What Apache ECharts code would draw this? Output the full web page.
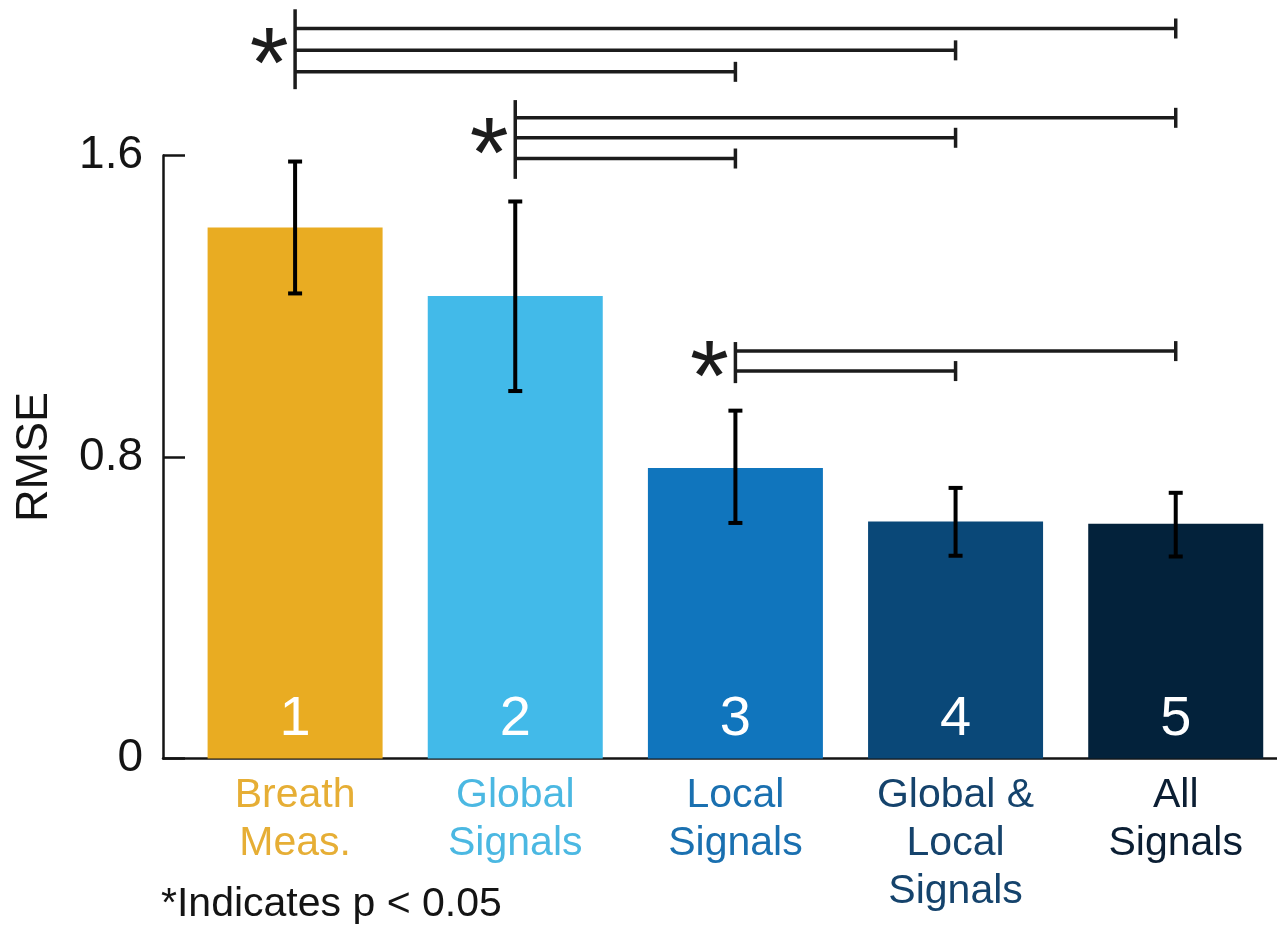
<!DOCTYPE html>
<html>
<head>
<meta charset="utf-8">
<script src="https://cdn.jsdelivr.net/npm/echarts@6/dist/echarts.min.js"></script>
<style>
html,body{margin:0;padding:0;background:#fff;}
#chart{width:1277px;height:927px;}
</style>
</head>
<body>
<div id="chart"></div>
<script>
// ---- data ----
const categories = ['Breath\nMeas.', 'Global\nSignals', 'Local\nSignals', 'Global &\nLocal\nSignals', 'All\nSignals'];
const barNumbers = ['1', '2', '3', '4', '5'];
const rmse = [1.409, 1.227, 0.771, 0.629, 0.623];
const errLow = [1.234, 0.975, 0.625, 0.538, 0.536];
const errHigh = [1.584, 1.478, 0.923, 0.718, 0.705];
const yTicks = [0, 0.8, 1.6];
// significance comparisons: from bar, to bar, bracket level (RMSE units)
const cmpFrom = [1, 1, 1, 2, 2, 2, 3, 3];
const cmpTo = [5, 4, 3, 5, 4, 3, 5, 4];
const cmpLevel = [1.937, 1.879, 1.822, 1.700, 1.647, 1.592, 1.081, 1.028];
// bracket groups: origin bar, whisker top, whisker bottom
const grpFrom = [1, 2, 3];
const grpTop = [1.988, 1.747, 1.105];
const grpBottom = [1.776, 1.538, 0.996];
const footnote = '*Indicates p < 0.05';

// ---- styles ----
const barColors = ['#E9AC22', '#42BAE9', '#1075BD', '#0A4878', '#03223B'];
const labelColors = ['#E6AE35', '#4BB8E2', '#1A70B0', '#15436C', '#0B1E33'];
const FONT = '"Liberation Sans", Arial, Helvetica, sans-serif';
const INK = '#141414';

const chart = echarts.init(document.getElementById('chart'), null, {renderer: 'canvas'});

const barData = rmse.map((v, i) => ({
  value: [i + 1, v],
  itemStyle: {color: barColors[i]}
}));
const errData = rmse.map((v, i) => [i + 1, errLow[i], errHigh[i]]);
const cmpData = cmpFrom.map((f, i) => [f, cmpLevel[i], cmpTo[i]]);
const grpData = grpFrom.map((f, i) => [f, grpTop[i], grpBottom[i]]);

const option = {
  animation: false,
  backgroundColor: '#ffffff',
  textStyle: {fontFamily: FONT},
  grid: {left: 163, right: 0, top: 155.5, bottom: 168.5, containLabel: false},
  xAxis: {
    type: 'value',
    min: 0.4,
    max: 5.46,
    splitLine: {show: false},
    axisTick: {show: false},
    axisLine: {show: true, onZero: false, lineStyle: {color: INK, width: 2.5}},
    axisLabel: {
      customValues: [1, 2, 3, 4, 5],
      formatter: v => categories[Math.round(v) - 1] || '',
      color: (v) => labelColors[Math.round(v) - 1] || INK,
      fontSize: 41,
      lineHeight: 48,
      margin: 13,
      fontFamily: FONT
    }
  },
  yAxis: {
    type: 'value',
    min: yTicks[0],
    max: yTicks[yTicks.length - 1],
    interval: yTicks[1] - yTicks[0],
    name: 'RMSE',
    nameLocation: 'middle',
    nameGap: 106,
    nameTextStyle: {fontSize: 45, color: INK, fontFamily: FONT},
    splitLine: {show: false},
    axisLine: {show: true, lineStyle: {color: INK, width: 2.5}},
    axisTick: {show: true, inside: true, length: 22, lineStyle: {color: INK, width: 2.5}},
    axisLabel: {
      fontSize: 46,
      color: INK,
      margin: 20,
      fontFamily: FONT,
      formatter: v => String(v)
    }
  },
  graphic: [{
    type: 'text',
    left: 161,
    top: 884,
    style: {text: footnote, font: '41px ' + FONT, fill: INK}
  }],
  series: [
    {
      type: 'bar',
      data: barData,
      barWidth: 175,
      label: {
        show: true,
        position: 'insideBottom',
        distance: 11,
        formatter: p => barNumbers[p.dataIndex],
        color: '#ffffff',
        fontSize: 56,
        fontFamily: FONT
      },
      z: 2
    },
    {
      type: 'custom',
      data: errData,
      encode: {x: 0, y: [1, 2]},
      z: 5,
      renderItem: (params, api) => {
        const x = api.value(0);
        const lo = api.coord([x, api.value(1)]);
        const hi = api.coord([x, api.value(2)]);
        const cw = 7;
        const st = {stroke: '#000', lineWidth: 4};
        return {
          type: 'group',
          children: [
            {type: 'line', shape: {x1: lo[0], y1: lo[1], x2: hi[0], y2: hi[1]}, style: st},
            {type: 'line', shape: {x1: hi[0] - cw, y1: hi[1], x2: hi[0] + cw, y2: hi[1]}, style: st},
            {type: 'line', shape: {x1: lo[0] - cw, y1: lo[1], x2: lo[0] + cw, y2: lo[1]}, style: st}
          ]
        };
      }
    },
    {
      type: 'custom',
      data: cmpData,
      encode: {x: [0, 2], y: 1},
      clip: false,
      z: 5,
      renderItem: (params, api) => {
        const lvl = api.value(1);
        const a = api.coord([api.value(0), lvl]);
        const b = api.coord([api.value(2), lvl]);
        const st = {stroke: '#1c1c1c', lineWidth: 3.5};
        return {
          type: 'group',
          children: [
            {type: 'line', shape: {x1: a[0], y1: a[1], x2: b[0], y2: b[1]}, style: st},
            {type: 'line', shape: {x1: b[0], y1: b[1] - 10, x2: b[0], y2: b[1] + 10}, style: st}
          ]
        };
      }
    },
    {
      type: 'custom',
      data: grpData,
      encode: {x: 0, y: [1, 2]},
      clip: false,
      z: 5,
      renderItem: (params, api) => {
        const x = api.value(0);
        const t = api.coord([x, api.value(1)]);
        const b = api.coord([x, api.value(2)]);
        const mid = (t[1] + b[1]) / 2;
        return {
          type: 'group',
          children: [
            {type: 'line', shape: {x1: t[0], y1: t[1], x2: b[0], y2: b[1]}, style: {stroke: '#1c1c1c', lineWidth: 3.5}},
            {type: 'text', x: t[0] - 26, y: mid + 20,
             style: {text: '*', font: '100px ' + FONT, fill: '#1c1c1c', align: 'center', verticalAlign: 'middle'}}
          ]
        };
      }
    }
  ]
};
chart.setOption(option);
</script>
</body>
</html>
